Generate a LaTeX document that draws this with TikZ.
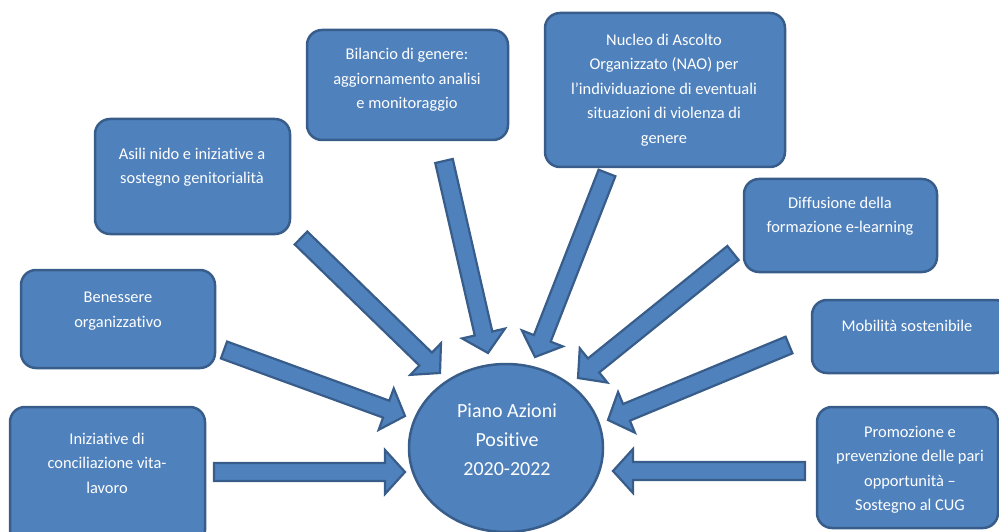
\documentclass[tikz,border=0pt]{standalone}
\usepackage{fontspec}
\setmainfont{Carlito}[Ligatures=NoCommon]
\usetikzlibrary{calc,shapes.geometric}

\definecolor{azzurro}{RGB}{79,129,189}
\definecolor{bordoblu}{RGB}{56,93,138}

\tikzset{
    areabox/.style={draw=bordoblu, fill=azzurro, line width=2.5pt, rounded corners=15pt, inner sep=0pt},
    areatext/.style={align=center, text=white, font=\fontsize{16.4}{24.5}\selectfont},
    pianotext/.style={align=center, text=white, font=\fontsize{20}{29}\selectfont},
    frecciablu/.style={draw=bordoblu, fill=azzurro, line width=2.2pt, line join=miter},
}

% freccia a blocco: #1 coda, #2 punta
\newcommand{\freccia}[2]{%
    \coordinate (#1-c) at ($(#2)!20pt!(#1)$);
    \draw[frecciablu] ($(#1)!9pt!90:(#2)$) -- ($(#1-c)!9pt!90:(#2)$) -- ($(#1-c)!22pt!90:(#2)$)
        -- (#2) -- ($(#1-c)!22pt!-90:(#2)$) -- ($(#1-c)!9pt!-90:(#2)$) -- ($(#1)!9pt!-90:(#2)$) -- cycle;
}

\begin{document}
\begin{tikzpicture}[x=1pt, y=-1pt]
        \useasboundingbox (0,0) rectangle (999,532);
        \clip (0,0) rectangle (999,532);

        % riquadri delle azioni
        \node[areabox, minimum width=195pt, minimum height=138pt] (ini) at (107.5,476) {};
        \node[areabox, minimum width=194pt, minimum height=98pt] (ben) at (118,319) {};
        \node[areabox, minimum width=195pt, minimum height=115pt] (asi) at (192.5,176.5) {};
        \node[areabox, minimum width=201pt, minimum height=110pt] (bil) at (407.5,85) {};
        \node[areabox, minimum width=240pt, minimum height=154pt] (nuc) at (665,90) {};
        \node[areabox, minimum width=193pt, minimum height=93pt] (dif) at (840.5,225.5) {};
        \node[areabox, minimum width=198pt, minimum height=73pt] (mob) at (911,336.5) {};
        \node[areabox, minimum width=181pt, minimum height=121pt] (pro) at (907.5,467.5) {};

        \node[areatext] (ini-t) at (107,463) {Iniziative di\\ conciliazione vita-\\ lavoro};
        \node[areatext] (ben-t) at (118,311) {Benessere\\ organizzativo};
        \node[areatext] (asi-t) at (192,167) {Asili nido e iniziative a\\ sostegno genitorialità};
        \node[areatext] (bil-t) at (407,80) {Bilancio di genere:\\ aggiornamento analisi\\ e monitoraggio};
        \node[areatext] (nuc-t) at (664,90) {Nucleo di Ascolto\\ Organizzato (NAO) per\\ l’individuazione di eventuali\\ situazioni di violenza di\\ genere};
        \node[areatext] (dif-t) at (840,216) {Diffusione della\\ formazione e-learning};
        \node[areatext] (mob-t) at (907,326) {Mobilità sostenibile};
        \node[areatext] (pro-t) at (910,470) {Promozione e\\ prevenzione delle pari\\ opportunità --\\ Sostegno al CUG};

        % piano centrale
        \node[ellipse, draw=bordoblu, fill=azzurro, line width=2.5pt, minimum width=194pt, minimum height=168pt] (pap) at (506,448) {};
        \node[pianotext] (pap-t) at (507,440) {Piano Azioni\\ Positive\\ 2020-2022};

        % frecce verso il piano
        \coordinate (ini-a) at (214,472); \coordinate (ini-p) at (405,472);
        \coordinate (ben-a) at (224,350); \coordinate (ben-p) at (405,416);
        \coordinate (asi-a) at (301,238); \coordinate (asi-p) at (440,373);
        \coordinate (bil-a) at (444,161); \coordinate (bil-p) at (488,353);
        \coordinate (nuc-a) at (607,173); \coordinate (nuc-p) at (535,357);
        \coordinate (dif-a) at (733,253); \coordinate (dif-p) at (578,378);
        \coordinate (mob-a) at (789,345); \coordinate (mob-p) at (608,420);
        \coordinate (pro-a) at (805,471); \coordinate (pro-p) at (613,471);

        \foreach \a in {ini,ben,asi,bil,nuc,dif,mob,pro}
            \freccia{\a-a}{\a-p};
\end{tikzpicture}
\end{document}
